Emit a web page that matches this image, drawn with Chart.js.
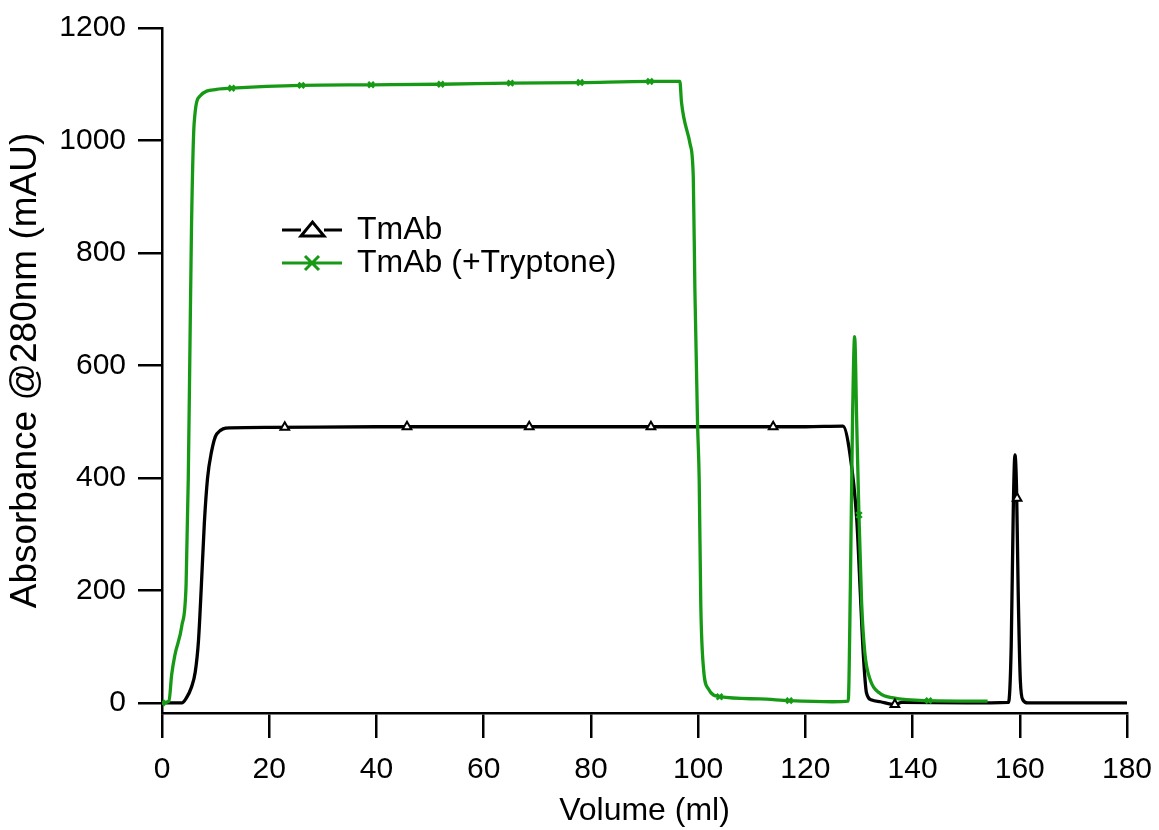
<!DOCTYPE html>
<html>
<head>
<meta charset="utf-8">
<script src="https://cdn.jsdelivr.net/npm/chart.js@4.4.1/dist/chart.umd.min.js"></script>
<style>
  html, body { margin: 0; padding: 0; background: #fff; }
</style>
</head>
<body>
<canvas id="grafico" width="1159" height="830"></canvas>
<script>
// Curva TmAb (preta)
const volTmAb = [0, 3.7, 4.5, 5.5, 6.2, 6.8, 7.3, 7.9, 8.5, 9.2, 10.2, 12.7, 20, 40, 60, 80, 100, 120, 127,
  128.3, 129.6, 130.2, 130.8, 131.4, 132.4, 134, 136.7, 138, 150, 157.9, 158.4, 158.8, 159.1,
  159.4, 159.7, 160.1, 160.6, 161.5, 170, 180];
const absTmAb = [0, 0, 8, 28, 55, 110, 200, 320, 400, 445, 478, 489, 490, 491, 491, 491, 491, 491, 492,
  444, 325, 207, 89, 18, 5, 2, -3, 1, 0, 1, 100, 350, 441,
  380, 200, 40, 5, 0, 0, 0];

// Curva TmAb (+Tryptone) (verde)
const volTryp = [0, 1.3, 1.8, 2.4, 3.7, 4.5, 4.9, 5.2, 5.5, 6.0, 7.1, 10.2, 13, 26, 39, 52, 65, 78,
  91, 96.6, 96.9, 98.5, 99.1, 99.4, 99.9, 100.2, 100.5, 101, 101.9, 104.1, 111.5, 117, 125,
  128.0, 128.4, 128.8, 129.2, 129.6, 130.0, 130.5, 131.1, 132.1, 133.9, 136.4, 143, 154];
const absTryp = [0, 3, 50, 85, 137, 212, 398, 622, 845, 1031, 1079, 1091, 1093, 1098, 1099, 1100,
  1102, 1103, 1105, 1105, 1068, 994, 935, 734, 495, 398, 174, 62, 25, 11, 7, 4, 2,
  3, 207, 503, 651, 491, 334, 178, 89, 41, 17, 9, 4, 3];

// Marcadores
const marcVolTmAb = [22.9, 45.7, 68.5, 91.2, 114, 136.7, 159.5];
const marcAbsTmAb = [490, 491, 491, 491, 491, -3, 364];
const marcVolTryp = [0, 13, 26, 39, 52, 65, 78, 91, 104, 117, 130, 143];
const marcAbsTryp = [0, 1093, 1098, 1099, 1100, 1102, 1103, 1105, 11, 4, 334, 4];

const ticksY = [0, 200, 400, 600, 800, 1000, 1200];
const nomes = ["TmAb", "TmAb (+Tryptone)"];

const verde = "#169a16";
const fonte = "'Liberation Sans', Arial, sans-serif";

function pares(xs, ys) {
  return xs.map((x, i) => ({ x: x, y: ys[i] }));
}

// Legenda desenhada dentro da área do gráfico
const legendaInterna = {
  id: "legendaInterna",
  afterDraw(chart) {
    const ctx = chart.ctx;
    ctx.save();
    ctx.font = "32px " + fonte;
    ctx.textBaseline = "middle";
    const cores = ["#000", verde];
    cores.forEach((cor, i) => {
      const y = 230 + i * 33;
      ctx.strokeStyle = cor;
      ctx.lineWidth = 3;
      ctx.beginPath();
      if (i === 0) {
        ctx.moveTo(282, y); ctx.lineTo(301, y);
        ctx.moveTo(324, y); ctx.lineTo(342, y);
        ctx.stroke();
        ctx.beginPath();
        ctx.moveTo(301, y + 6); ctx.lineTo(312.5, y - 8); ctx.lineTo(324, y + 6); ctx.closePath();
        ctx.stroke();
      } else {
        ctx.moveTo(282, y); ctx.lineTo(342, y);
        ctx.moveTo(305, y - 7); ctx.lineTo(319, y + 7);
        ctx.moveTo(319, y - 7); ctx.lineTo(305, y + 7);
        ctx.stroke();
      }
      ctx.fillStyle = "#000";
      ctx.fillText(chart.data.datasets[i].label, 357, y);
    });
    ctx.restore();
  }
};

new Chart(document.getElementById("grafico"), {
  type: "line",
  data: {
    datasets: [
      {
        label: nomes[0],
        data: pares(volTmAb, absTmAb),
        borderColor: "#000",
        borderWidth: 3.3,
        pointRadius: 0,
        cubicInterpolationMode: "monotone",
        order: 3
      },
      {
        label: nomes[1],
        data: pares(volTryp, absTryp),
        borderColor: verde,
        borderWidth: 3.3,
        pointRadius: 0,
        cubicInterpolationMode: "monotone",
        order: 2
      },
      {
        label: "marcadores TmAb",
        data: pares(marcVolTmAb, marcAbsTmAb),
        showLine: false,
        pointStyle: "triangle",
        pointRadius: 5,
        pointBorderWidth: 2,
        pointBorderColor: "#000",
        pointBackgroundColor: "#fff",
        order: 1
      },
      {
        label: "marcadores Tryptone",
        data: pares(marcVolTryp, marcAbsTryp),
        showLine: false,
        pointStyle: "crossRot",
        pointRadius: 4,
        pointBorderWidth: 2.5,
        pointBorderColor: verde,
        order: 0
      }
    ]
  },
  options: {
    responsive: false,
    animation: false,
    devicePixelRatio: 1,
    layout: { padding: { top: 28, right: 32, left: 0, bottom: 0 } },
    plugins: {
      legend: { display: false },
      tooltip: { enabled: false }
    },
    scales: {
      x: {
        type: "linear",
        min: 0,
        max: 180,
        ticks: { stepSize: 20, color: "#000", font: { family: fonte, size: 30 }, padding: 14, maxRotation: 0,
          callback: v => String(v) },
        title: { display: true, text: "Volume (ml)", color: "#000", font: { family: fonte, size: 32 }, padding: { top: 0, bottom: 0 } },
        grid: { drawOnChartArea: false, tickLength: 25, color: "#000", lineWidth: 2.5 },
        border: { color: "#000", width: 2.5 },
        afterFit(s) { s.height = 117; s.paddingLeft = 0; s.paddingRight = 0; }
      },
      y: {
        min: -18,
        max: 1200,
        afterBuildTicks(s) { s.ticks = ticksY.map(v => ({ value: v })); },
        ticks: { color: "#000", font: { family: fonte, size: 30 }, padding: 12, callback: v => String(v) },
        title: { display: true, text: "Absorbance @280nm (mAU)", color: "#000", font: { family: fonte, size: 37 }, padding: { top: 4, bottom: 0 } },
        grid: { drawOnChartArea: false, tickLength: 24, color: "#000", lineWidth: 2.5 },
        border: { color: "#000", width: 2.5 },
        afterFit(s) { s.width = 162; s.paddingTop = 0; s.paddingBottom = 0; }
      }
    }
  },
  plugins: [legendaInterna]
});
</script>
</body>
</html>
